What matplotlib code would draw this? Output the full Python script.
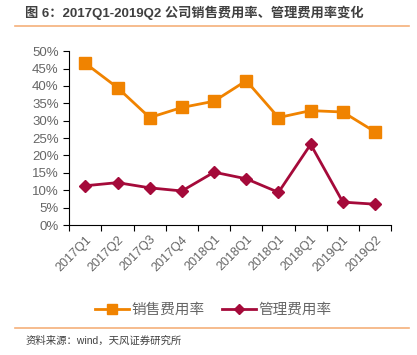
import matplotlib
matplotlib.use("Agg")
import matplotlib.pyplot as plt
from matplotlib.lines import Line2D
import numpy as np

plt.rcParams['font.family'] = ['Liberation Sans', 'Noto Sans CJK SC', 'DejaVu Sans']

categories = ["2017Q1", "2017Q2", "2017Q3", "2017Q4", "2018Q1", "2018Q1",
              "2018Q1", "2018Q1", "2019Q1", "2019Q2"]
sales_rate = [46.5, 39.5, 30.9, 33.8, 35.6, 41.5, 30.9, 32.9, 32.5, 26.8]
admin_rate = [11.3, 12.2, 10.7, 9.8, 15.2, 13.3, 9.4, 23.2, 6.6, 6.0]
yticks = [0, 5, 10, 15, 20, 25, 30, 35, 40, 45, 50]

orange = '#F08300'
red = '#A50A3A'
gray = '#666666'

fig = plt.figure(figsize=(4.17, 3.55), dpi=100)
ax = fig.add_axes([0.166, 0.366, 0.772, 0.49])

x = np.arange(len(categories))
ax.plot(x, sales_rate, color=orange, lw=2, marker='s', ms=8, label='销售费用率')
ax.plot(x, admin_rate, color=red, lw=2, marker='D', ms=6, label='管理费用率')

ax.set_xlim(-0.5, len(categories) - 0.5)
ax.set_ylim(0, 50)
ax.set_yticks(yticks)
ax.set_yticklabels([f"{v}%" for v in yticks], fontsize=9.5, color=gray)
ax.set_xticks(np.arange(len(categories) + 1) - 0.5)
ax.set_xticklabels([])
ax.set_xticks(x, minor=True)
ax.set_xticklabels(categories, minor=True, rotation=45, ha='right',
                   rotation_mode='anchor', fontsize=9, color=gray)
ax.tick_params(axis='x', which='minor', length=0, pad=6)
ax.tick_params(axis='both', which='major', direction='out', length=4, color='black', width=0.8)
for s in ['top', 'right']:
    ax.spines[s].set_visible(False)
for s in ['left', 'bottom']:
    ax.spines[s].set_color('black')
    ax.spines[s].set_linewidth(0.8)

handles = [Line2D([0], [0], color=orange, lw=2, marker='s', ms=7),
           Line2D([0], [0], color=red, lw=2, marker='D', ms=5)]
fig.legend(handles, ['销售费用率', '管理费用率'], loc='center', bbox_to_anchor=(0.512, 0.127),
           ncol=2, frameon=False, fontsize=10.5, handlelength=2.3, columnspacing=1.2,
           handletextpad=0.2, labelcolor=gray)

fig.text(0.06, 0.965, '图 6：2017Q1-2019Q2 公司销售费用率、管理费用率变化', fontsize=9.5,
         fontweight='bold', color='#404040', va='center', ha='left')
fig.add_artist(Line2D([0.036, 0.98], [0.928, 0.928], color='#F5B07A', lw=1.2))
fig.add_artist(Line2D([0.036, 0.98], [0.077, 0.077], color='#F5B07A', lw=1.2))
fig.text(0.06, 0.04, '资料来源：wind，天风证券研究所', fontsize=7.5, color='#404040',
         va='center', ha='left')

fig.savefig('out.png', dpi=100)
